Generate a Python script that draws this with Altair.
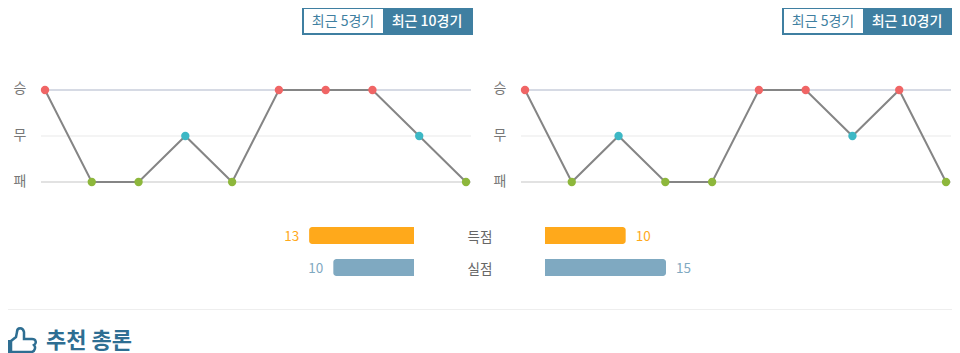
import altair as alt
import pandas as pd

FONT = "Noto Sans CJK KR"
RESULT_LABELS = ["승", "무", "패"]
GAMES = list(range(1, 11))
LEFT_RESULTS = ["승", "패", "패", "무", "패", "승", "승", "승", "무", "패"]
RIGHT_RESULTS = ["승", "패", "무", "패", "패", "승", "승", "무", "승", "패"]
STAT_LABELS = ["득점", "실점"]
LEFT_STATS = [13, 10]
RIGHT_STATS = [10, 15]
BUTTON_LABELS = ["최근 5경기", "최근 10경기"]
RESULT_COLORS = ["#F06565", "#3DB8C5", "#8DB73B"]
STAT_COLORS = ["#FFA91B", "#7FA9C1"]
BLUE = "#3F7FA1"
TITLE = "추천 총론"


def o(x):
    return x - 8


yres = alt.Scale(type="point", domain=RESULT_LABELS, range=[o(90), o(182)], padding=0)
ystat = alt.Scale(type="point", domain=STAT_LABELS, range=[o(235.5), o(267.5)], padding=0)


def vrect(x0, x1, y0, y1, color):
    return alt.Chart(pd.DataFrame({"a": [0]})).mark_rect(color=color).encode(
        x=alt.value(o(x0)), x2=alt.value(o(x1)), y=alt.value(o(y0)), y2=alt.value(o(y1))
    )


def vtext(txt, x, y, color, size, weight="normal", align="center"):
    return alt.Chart(pd.DataFrame({"t": [txt]})).mark_text(
        font=FONT, fontSize=size, fontWeight=weight, color=color, align=align, baseline="middle"
    ).encode(x=alt.value(o(x)), y=alt.value(o(y)), text="t:N")


def panel(results, x_first, x_last, grid_x0, grid_x1, label_x, btn_x):
    layers = []
    grid = pd.DataFrame({"r": RESULT_LABELS, "w": [2, 1, 2], "c": ["#D6DAE4", "#E9E9E9", "#E2E2E2"]})
    for i, row in grid.iterrows():
        layers.append(
            alt.Chart(pd.DataFrame({"r": [row.r]})).mark_rule(color=row.c, strokeWidth=int(row.w)).encode(
                x=alt.value(o(grid_x0)), x2=alt.value(o(grid_x1)),
                y=alt.Y("r:N", scale=yres, axis=None),
            )
        )
    df = pd.DataFrame({"g": GAMES, "r": results})
    xs = alt.Scale(domain=[1, 10], range=[o(x_first), o(x_last)])
    layers.append(alt.Chart(df).mark_line(color="#858585", strokeWidth=2).encode(
        x=alt.X("g:Q", scale=xs, axis=None), y=alt.Y("r:N", scale=yres, axis=None), order="g:Q"))
    layers.append(alt.Chart(df).mark_point(filled=True, size=70, opacity=1).encode(
        x=alt.X("g:Q", scale=xs, axis=None), y=alt.Y("r:N", scale=yres, axis=None),
        color=alt.Color("r:N", scale=alt.Scale(domain=RESULT_LABELS, range=RESULT_COLORS), legend=None)))
    for lab, y in zip(RESULT_LABELS, [89, 136, 182]):
        layers.append(vtext(lab, label_x, y, "#777777", 14))
    layers.append(vrect(btn_x, btn_x + 171, 7, 35, BLUE))
    layers.append(vrect(btn_x + 2, btn_x + 81, 9, 33, "#FFFFFF"))
    layers.append(vtext(BUTTON_LABELS[0], btn_x + 41, 21.5, BLUE, 14))
    layers.append(vtext(BUTTON_LABELS[1], btn_x + 125, 21.5, "#FFFFFF", 14, 500))
    return layers


def bars(values, side):
    df = pd.DataFrame({"s": STAT_LABELS, "v": values, "z": [0, 0]})
    if side == "left":
        xs = alt.Scale(domain=[0, 15], range=[o(414), o(293)])
        radius = dict(cornerRadiusTopLeft=3, cornerRadiusBottomLeft=3)
        tx = dict(align="right", dx=-10)
    else:
        xs = alt.Scale(domain=[0, 15], range=[o(545), o(666)])
        radius = dict(cornerRadiusTopRight=3, cornerRadiusBottomRight=3)
        tx = dict(align="left", dx=10)
    col = alt.Color("s:N", scale=alt.Scale(domain=STAT_LABELS, range=STAT_COLORS), legend=None)
    b = alt.Chart(df).mark_bar(height=17, **radius).encode(
        x=alt.X("z:Q", scale=xs, axis=None), x2="v:Q",
        y=alt.Y("s:N", scale=ystat, axis=None), color=col)
    t = alt.Chart(df).mark_text(font=FONT, fontSize=13.5, baseline="middle", dy=1, **tx).encode(
        x=alt.X("v:Q", scale=xs, axis=None),
        y=alt.Y("s:N", scale=ystat, axis=None), text="v:Q", color=col)
    return [b, t]


layers = []
layers += panel(LEFT_RESULTS, 45, 466, 41, 471, 20, 302)
layers += panel(RIGHT_RESULTS, 525, 946, 521, 951, 500, 782)
layers += bars(LEFT_STATS, "left")
layers += bars(RIGHT_STATS, "right")
layers.append(vtext(STAT_LABELS[0], 480, 237.5, "#666666", 13.5))
layers.append(vtext(STAT_LABELS[1], 480, 269.5, "#666666", 13.5))
layers.append(vrect(0, 960, 309, 310, "#EEEEEE"))
layers.append(vtext(TITLE, 46, 341, "#2E6E92", 22, "bold", "left"))

THUMB = ("M-9,1 L-4,-3 L-3,-8 C-3,-13 3,-13 4,-8 L4,-1 L12,-1 C16,-1 17,3 14,5 "
         "C16,7 15,11 12,12 L-9,12 Z")
CUFF = "M-20,0 L-9,0 L-9,14 L-20,14 Z"
icon = pd.DataFrame({"a": [0]})
layers.append(alt.Chart(icon).mark_point(shape=THUMB, size=4, filled=False, stroke="#2E6E92", strokeWidth=2.5, opacity=1).encode(
    x=alt.value(o(20)), y=alt.value(o(340))))
layers.append(alt.Chart(icon).mark_point(shape=CUFF, size=4, filled=True, fill="#2E6E92", opacity=1).encode(
    x=alt.value(o(20)), y=alt.value(o(340))))

chart = alt.layer(*layers).resolve_scale(x="independent", y="independent", color="independent").properties(
    width=944, height=345, padding=0, autosize="none", background="#FFFFFF"
).configure_view(stroke=None)

chart.save("out.html", embed_options={"renderer": "svg", "actions": False})
